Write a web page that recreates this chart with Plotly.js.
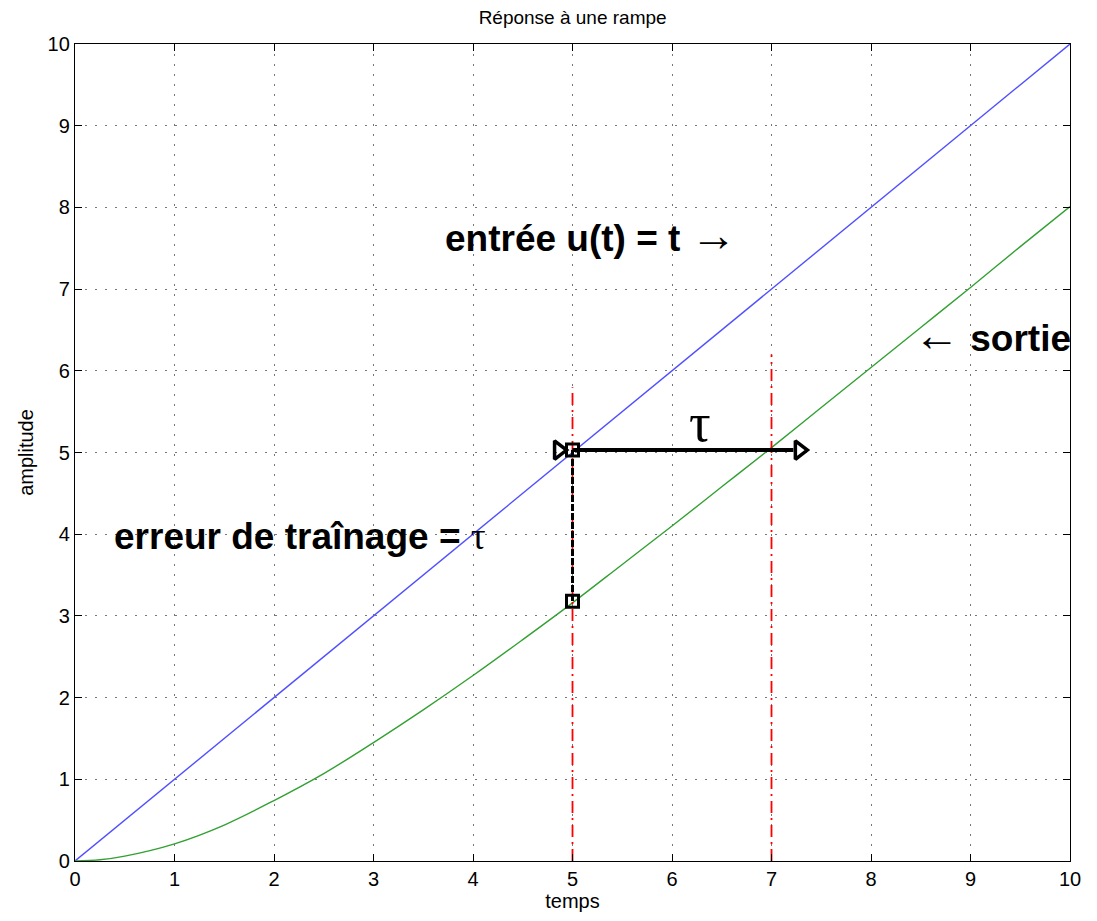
<!DOCTYPE html>
<html>
<head>
<meta charset="utf-8">
<script src="https://cdn.plot.ly/plotly-3.0.1.min.js"></script>
<style>html,body{margin:0;padding:0;background:#fff;}#chart{width:1097px;height:921px;}</style>
</head>
<body>
<div id="chart"></div>
<script>
// Input ramp
const entreeT = [0, 10];
const entreeY = [0, 10];
// Output
const sortieT = [0, 0.25, 0.5, 1, 1.5, 2, 2.5, 3, 3.5, 4, 4.5, 5, 5.5, 6, 6.5, 7, 7.5, 8, 8.5, 9, 9.5, 10];
const sortieY = [0, 0.015, 0.06, 0.21, 0.44, 0.74, 1.07, 1.45, 1.85, 2.27, 2.71, 3.16, 3.63, 4.10, 4.58, 5.06, 5.55, 6.04, 6.53, 7.02, 7.52, 8.01];
// Red dash-dot guides
const guide1X = [5, 5], guide1Y = [0, 5.8];
const guide2X = [7, 7], guide2Y = [0, 6.2];
// Black tau arrow
const arrowX = [5, 7.22], arrowY = [5.03, 5.03];
const arrowHeadX = [4.86, 7.28], arrowHeadY = [5.03, 5.03];
// Vertical error bar
const errX = [5, 5], errY = [5.03, 3.18];

const FONT = 'Liberation Sans, Arial, sans-serif';
const SERIF = 'Liberation Serif, DejaVu Serif, serif';
const ARROW = '<span style="font-family:Liberation Sans;font-weight:normal;font-size:46px">';

const traces = [
  {x: entreeT, y: entreeY, mode: 'lines', line: {color: 'rgb(80,80,255)', width: 1.4}, hoverinfo: 'skip'},
  {x: sortieT, y: sortieY, mode: 'lines', line: {color: 'rgb(50,160,50)', width: 1.4, shape: 'spline'}, hoverinfo: 'skip'},
  {x: guide1X, y: guide1Y, mode: 'lines', line: {color: 'red', width: 1.8, dash: '12px,5px,2px,5px'}, hoverinfo: 'skip'},
  {x: guide2X, y: guide2Y, mode: 'lines', line: {color: 'red', width: 1.8, dash: '12px,5px,2px,5px'}, hoverinfo: 'skip'},
  {x: errX, y: errY, mode: 'lines', line: {color: 'black', width: 3, dash: '7px,2px'}, hoverinfo: 'skip'},
  {x: arrowX, y: arrowY, mode: 'lines', line: {color: 'black', width: 4}, hoverinfo: 'skip'},
  {x: arrowHeadX, y: arrowHeadY, mode: 'markers', marker: {symbol: 'triangle-right-open', size: 16, color: 'black', line: {width: 3.5, color: 'black'}}, hoverinfo: 'skip'},
  {x: errX, y: errY, mode: 'markers', marker: {symbol: 'square-open', size: 12, color: 'black', line: {width: 3, color: 'black'}}, hoverinfo: 'skip'}
];

const axisCommon = {
  range: [0, 10], dtick: 1, tick0: 0,
  showline: true, linecolor: 'black', linewidth: 1.2, mirror: 'ticks',
  ticks: 'inside', ticklen: 7, tickcolor: 'black', tickwidth: 1,
  showgrid: true, gridcolor: '#777', gridwidth: 1, griddash: '2px,8px',
  zeroline: false,
  tickfont: {family: FONT, size: 20, color: 'black'}
};

const layout = {
  width: 1097, height: 921,
  margin: {l: 75, r: 27, t: 44, b: 60},
  paper_bgcolor: 'white', plot_bgcolor: 'white',
  showlegend: false,
  title: {text: 'Réponse à une rampe', font: {family: FONT, size: 19, color: 'black'}, x: 0.522, xanchor: 'center', y: 0.981, yref: 'container', yanchor: 'middle'},
  xaxis: Object.assign({}, axisCommon, {title: {text: 'temps', font: {family: FONT, size: 20, color: 'black'}, standoff: 4}}),
  yaxis: Object.assign({}, axisCommon, {title: {text: 'amplitude', font: {family: FONT, size: 20, color: 'black'}, standoff: 8}}),
  annotations: [
    {x: (443 - 75) / 99.5, y: 7.66, xref: 'x', yref: 'y', xanchor: 'left', showarrow: false, text: '<b>entrée u(t) = t</b> ' + ARROW + '→</span>', font: {family: FONT, size: 37, color: 'black'}},
    {x: (912 - 75) / 99.5, y: 6.44, xref: 'x', yref: 'y', xanchor: 'left', showarrow: false, text: ARROW + '←</span> <b>sortie</b>', font: {family: FONT, size: 37, color: 'black'}},
    {x: (112 - 75) / 99.5, y: 3.97, xref: 'x', yref: 'y', xanchor: 'left', showarrow: false, text: '<b>erreur de traînage = </b><span style="font-family:Liberation Serif, serif">τ</span>', font: {family: FONT, size: 37, color: 'black'}},
    {x: 6.28, y: 5.36, xref: 'x', yref: 'y', showarrow: false, text: 'τ', font: {family: SERIF, size: 54, color: 'black'}}
  ]
};

Plotly.newPlot('chart', traces, layout, {staticPlot: true, displayModeBar: false});
</script>
</body>
</html>
